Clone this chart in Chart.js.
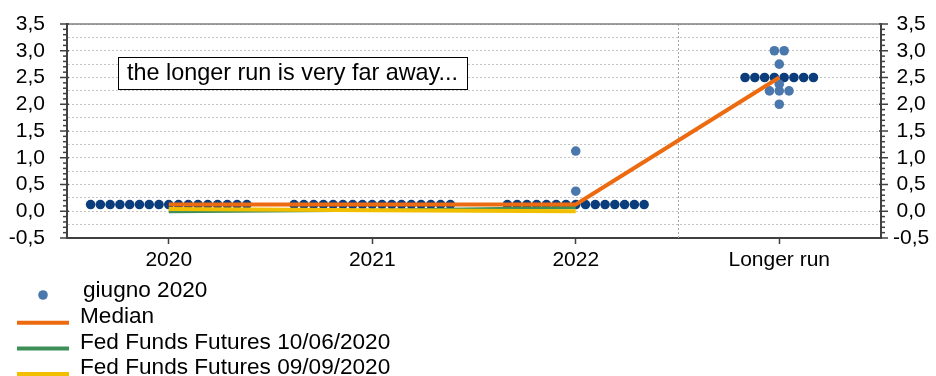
<!DOCTYPE html>
<html>
<head>
<meta charset="utf-8">
<script src="https://cdn.jsdelivr.net/npm/chart.js@4.4.1/dist/chart.umd.min.js"></script>
<style>
  html, body { margin: 0; padding: 0; background: #ffffff; }
  canvas { display: block; }
</style>
</head>
<body>
<canvas id="chart" width="936" height="376"></canvas>
<script>
// Categories on the horizontal axis
const categories = ['2020', '2021', '2022', 'Longer run'];

// FOMC participants' projections (one entry per dot)
const dots2020 = [0.125, 0.125, 0.125, 0.125, 0.125, 0.125, 0.125, 0.125, 0.125,
                  0.125, 0.125, 0.125, 0.125, 0.125, 0.125, 0.125, 0.125];
const dots2021 = [0.125, 0.125, 0.125, 0.125, 0.125, 0.125, 0.125, 0.125, 0.125,
                  0.125, 0.125, 0.125, 0.125, 0.125, 0.125, 0.125, 0.125];
const dots2022 = [0.125, 0.125, 0.125, 0.125, 0.125, 0.125, 0.125, 0.125,
                  0.125, 0.125, 0.125, 0.125, 0.125, 0.125, 0.125, 0.375, 1.125];
const dotsLongerRun = [3.0, 3.0, 2.75, 2.5, 2.5, 2.5, 2.5, 2.5, 2.5, 2.5, 2.5,
                       2.375, 2.25, 2.25, 2.25, 2.0];

// Line series
const median = [0.125, 0.125, 0.125, 2.5];
const futures100620 = [-0.01, 0.02, 0.07, null];
const futures090920 = [0.04, 0.02, 0.0, null];

const seriesLabels = ['giugno 2020', 'Median', 'Fed Funds Futures 10/06/2020', 'Fed Funds Futures 09/09/2020'];
const noteText = 'the longer run is very far away...';

const FONT = "'Liberation Sans', Arial, sans-serif";
const DOT_DARK = '#0b3d7c';
const DOT_LIGHT = '#4a78ad';
const DOT_STEP = 0.048;   // horizontal spacing of dots sharing the same value

// Dots sharing a value are laid side by side, centred on their category.
function dotPoints(values, cat) {
  const counts = new Map();
  values.forEach(v => counts.set(v, (counts.get(v) || 0) + 1));
  let modal = null, best = 0;
  counts.forEach((n, v) => { if (n > best) { best = n; modal = v; } });
  const seen = new Map();
  return values.map(v => {
    const n = counts.get(v);
    const k = seen.get(v) || 0;
    seen.set(v, k + 1);
    return { x: cat + (k - (n - 1) / 2) * DOT_STEP, y: v, modal: v === modal };
  });
}

const allDots = [dots2020, dots2021, dots2022, dotsLongerRun]
  .flatMap((vals, i) => dotPoints(vals, i));

const toXY = arr => arr.map((v, i) => ({ x: i, y: v })).filter(p => p.y !== null);

const isHalf = v => Math.abs(v * 2 - Math.round(v * 2)) < 1e-6;
const fmt = v => (Math.round(v * 10) / 10).toFixed(1).replace('.', ',');

// Fixed axis widths; no extra room reserved for the end labels
function fixWidth(w) {
  return s => { s.width = w; s.paddingTop = 0; s.paddingBottom = 0; };
}

// Axis frame, minor/major tick marks, separator line, note box and a one-column legend
const decorations = {
  id: 'decorations',
  beforeDatasetsDraw(chart) {
    const { ctx, chartArea } = chart;
    const xs = chart.scales.x;
    const sep = xs.getPixelForValue(2.5);
    ctx.save();
    ctx.strokeStyle = '#a6a6a6';
    ctx.lineWidth = 1;
    ctx.setLineDash([2, 2]);
    ctx.beginPath();
    ctx.moveTo(Math.round(sep) + 0.5, chartArea.top);
    ctx.lineTo(Math.round(sep) + 0.5, chartArea.bottom);
    ctx.stroke();
    ctx.restore();
  },
  afterDraw(chart) {
    const { ctx, chartArea } = chart;
    ctx.save();
    // top frame line
    ctx.strokeStyle = '#7f7f7f';
    ctx.lineWidth = 1.5;
    ctx.beginPath();
    ctx.moveTo(chartArea.left, chartArea.top);
    ctx.lineTo(chartArea.right, chartArea.top);
    ctx.stroke();

    // tick marks on both value axes: every 0,1 small, every 0,5 long
    ctx.strokeStyle = '#404040';
    ctx.lineWidth = 1.5;
    ['y', 'y2'].forEach(id => {
      const s = chart.scales[id];
      const ax = id === 'y' ? chartArea.left : chartArea.right;
      const dir = id === 'y' ? -1 : 1;
      for (let k = -5; k <= 35; k++) {
        const py = s.getPixelForValue(k / 10);
        const major = k % 5 === 0;
        ctx.beginPath();
        ctx.moveTo(ax - dir * (major ? 2 : 0), py);
        ctx.lineTo(ax + dir * (major ? 7 : 4), py);
        ctx.stroke();
      }
    });

    // note box
    const bx = 118, by = 57, bw = 349, bh = 32;
    ctx.fillStyle = '#ffffff';
    ctx.fillRect(bx, by, bw, bh);
    ctx.strokeStyle = '#000000';
    ctx.lineWidth = 1;
    ctx.strokeRect(bx + 0.5, by + 0.5, bw, bh);
    ctx.fillStyle = '#000000';
    ctx.font = '23.4px ' + FONT;
    ctx.textBaseline = 'middle';
    ctx.textAlign = 'left';
    ctx.fillText(noteText, bx + 9, by + bh / 2 + 1);

    // legend, one entry per row
    ctx.font = '22.6px ' + FONT;
    chart.data.datasets.forEach((ds, i) => {
      const ty = 291 + i * 25.7;
      if (ds.showLine === false) {
        ctx.fillStyle = DOT_LIGHT;
        ctx.beginPath();
        ctx.arc(43, ty + 4, 4.8, 0, Math.PI * 2);
        ctx.fill();
      } else {
        ctx.strokeStyle = ds.borderColor;
        ctx.lineWidth = 4;
        ctx.beginPath();
        ctx.moveTo(17, ty + 6);
        ctx.lineTo(69, ty + 6);
        ctx.stroke();
      }
      ctx.fillStyle = '#000000';
      ctx.fillText(ds.label, i === 0 ? 83 : 80, ty);
    });
    ctx.restore();
  }
};

new Chart(document.getElementById('chart'), {
  type: 'scatter',
  data: {
    datasets: [
      {
        label: seriesLabels[0],
        data: allDots,
        showLine: false,
        pointRadius: 4.8,
        pointHoverRadius: 4.8,
        pointBorderWidth: 0,
        pointBackgroundColor: ctx => (ctx.raw && ctx.raw.modal) ? DOT_DARK : DOT_LIGHT,
        order: 3
      },
      {
        label: seriesLabels[1],
        data: toXY(median),
        showLine: true,
        borderColor: '#ec6a10',
        borderWidth: 4,
        pointRadius: 0,
        order: 0
      },
      {
        label: seriesLabels[2],
        data: toXY(futures100620),
        showLine: true,
        borderColor: '#3e8e58',
        borderWidth: 3,
        pointRadius: 0,
        order: 2
      },
      {
        label: seriesLabels[3],
        data: toXY(futures090920),
        showLine: true,
        borderColor: '#f2bf00',
        borderWidth: 4,
        pointRadius: 0,
        order: 1
      }
    ]
  },
  options: {
    responsive: false,
    animation: false,
    layout: { padding: { top: 24, bottom: 100, left: 0, right: 0 } },
    plugins: {
      legend: { display: false },
      tooltip: { enabled: false }
    },
    scales: {
      x: {
        type: 'linear',
        position: 'bottom',
        min: -0.5,
        max: 3.5,
        afterFit(s) { s.height = 38; s.paddingLeft = 0; s.paddingRight = 0; },
        afterBuildTicks(s) { s.ticks = categories.map((c, i) => ({ value: i })); },
        ticks: {
          autoSkip: false,
          maxRotation: 0,
          padding: 4,
          color: '#000000',
          font: { family: FONT, size: 21 },
          callback: v => categories[v]
        },
        grid: {
          drawOnChartArea: false,
          drawTicks: true,
          tickLength: 6,
          tickColor: '#404040',
          tickWidth: 1.5
        },
        border: { color: '#404040', width: 2 }
      },
      y: {
        type: 'linear',
        position: 'left',
        min: -0.5,
        max: 3.5,
        afterFit: fixWidth(67),
        ticks: {
          stepSize: 0.25,
          autoSkip: false,
          padding: 22,
          color: '#000000',
          font: { family: FONT, size: 21 },
          callback: v => isHalf(v) ? fmt(v) : ''
        },
        grid: { color: '#c4c4c4', lineWidth: 1, drawTicks: false },
        border: { color: '#404040', width: 2, dash: [2, 2] }
      },
      y2: {
        type: 'linear',
        position: 'right',
        min: -0.5,
        max: 3.5,
        afterFit: fixWidth(55),
        ticks: {
          stepSize: 0.25,
          autoSkip: false,
          padding: 12,
          crossAlign: 'center',
          color: '#000000',
          font: { family: FONT, size: 21 },
          callback: v => isHalf(v) ? fmt(v) : ''
        },
        grid: { drawOnChartArea: false, drawTicks: false },
        border: { color: '#404040', width: 2 }
      }
    }
  },
  plugins: [decorations]
});
</script>
</body>
</html>
